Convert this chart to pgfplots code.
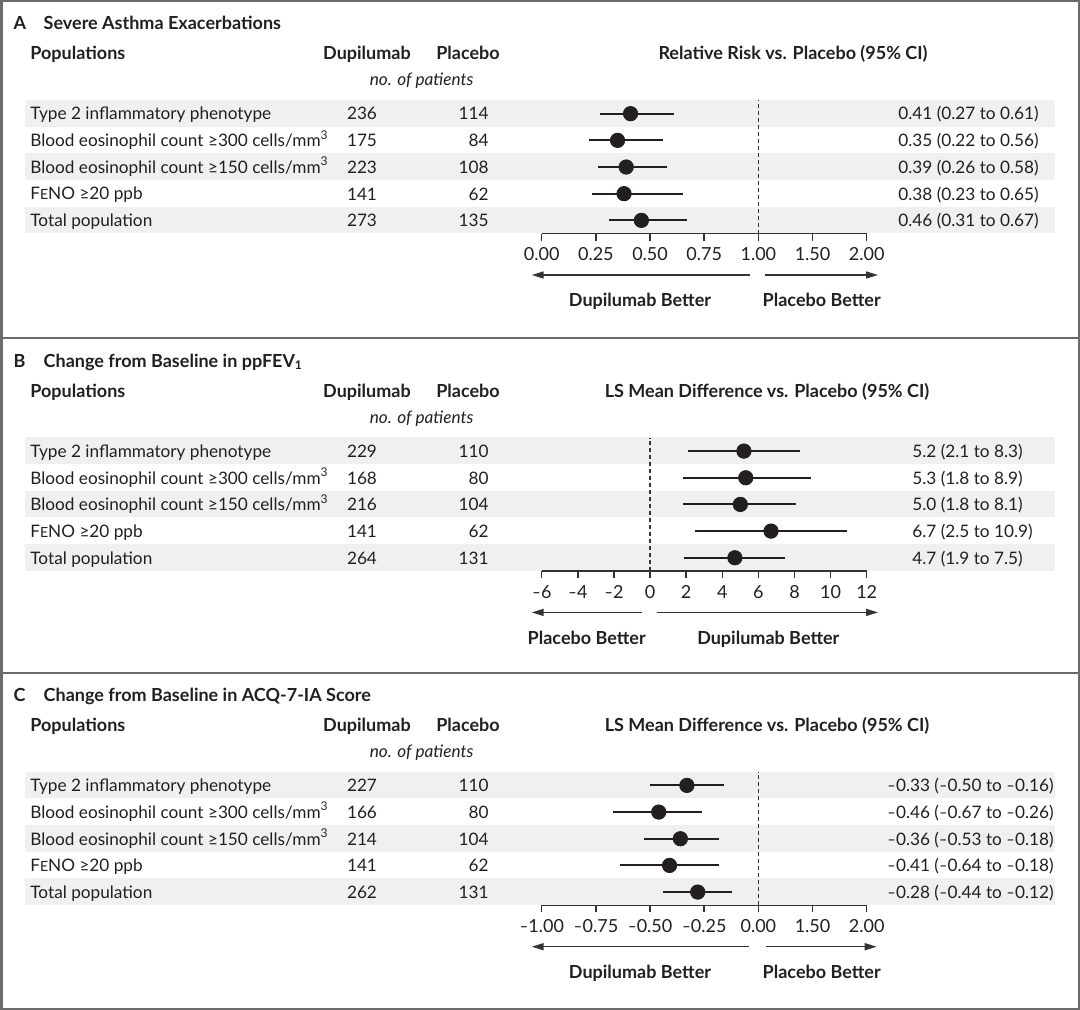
\documentclass[border=0pt]{standalone}
\usepackage{fontspec}
\setmainfont{Lato}
\usepackage{pgfplots}
\pgfplotsset{compat=1.18}
\usepackage{pgfplotstable}
\usetikzlibrary{arrows.meta}

\definecolor{ink}{HTML}{231F20}
\definecolor{band}{HTML}{EFF0F0}
\definecolor{framec}{HTML}{6B6B6B}
\definecolor{axisgray}{HTML}{333333}

\newcommand\fs{\fontsize{8.6}{10}\selectfont}
\newcommand\fst{\fontsize{9}{10}\selectfont}
\newcommand\fsb{\fontsize{9}{10}\selectfont\bfseries}
% narrow dash used as minus sign in the reference
\newcommand\nd{\kern0.02em\scalebox{0.8}[1]{–}\kern0.02em}

% rows numbered 5 (top) to 1 (bottom)
\pgfplotstableread{
row est lo hi
5 0.41 0.27 0.61
4 0.35 0.22 0.56
3 0.39 0.26 0.58
2 0.38 0.23 0.65
1 0.46 0.31 0.67
}\tabA
\pgfplotstableread{
row est lo hi
5 5.2 2.1 8.3
4 5.3 1.8 8.9
3 5.0 1.8 8.1
2 6.7 2.5 10.9
1 4.7 1.9 7.5
}\tabB
\pgfplotstableread{
row est lo hi
5 -0.33 -0.50 -0.16
4 -0.46 -0.67 -0.26
3 -0.36 -0.53 -0.18
2 -0.41 -0.64 -0.18
1 -0.28 -0.44 -0.12
}\tabC

\pgfplotsset{
  forest/.style={
    scale only axis, width=162.5pt, height=66.67pt,
    ymin=0.5, ymax=5.5, anchor=south west, clip=false,
    axis x line=bottom, axis y line=none,
    x axis line style={-, line width=0.75pt, draw=axisgray},
    xtick align=outside, major tick length=3.5pt,
    tick style={line width=0.75pt, color=axisgray},
    xticklabel style={font=\fst, text=ink},
    ytick=\empty,
  },
  ci/.style={only marks, mark=*, mark size=3.6pt, color=ink,
    error bars/.cd, x dir=both, x explicit, error mark=none,
    error bar style={line width=1pt, color=ink}},
}

\tikzset{
  lab/.style={font=\fs, text=ink, inner sep=0pt},
  hd/.style={font=\fsb, text=ink, inner sep=0pt},
  bet/.style={draw=axisgray, line width=0.75pt},
  ref/.style={axisgray, line width=0.75pt, dash pattern=on 2pt off 1.5pt},
}

\newcommand\rowlabels[1]{%
  \node[lab, anchor=base west] at (30,{#1+120.0}) {Type 2 inflammatory phenotype};
  \node[lab, anchor=base west] at (30,{#1+146.7}) {Blood eosinophil count ≥300 cells/mm\textsuperscript{3}};
  \node[lab, anchor=base west] at (30,{#1+173.4}) {Blood eosinophil count ≥150 cells/mm\textsuperscript{3}};
  \node[lab, anchor=base west] at (30,{#1+200.0}) {F{\fontsize{7}{8}\selectfont E}NO ≥20 ppb};
  \node[lab, anchor=base west] at (30,{#1+226.7}) {Total population};
  \node[hd, anchor=base west] at (30,{#1+60}) {Populations};
  \node[hd, anchor=base] at (367,{#1+60}) {Dupilumab};
  \node[hd, anchor=base] at (468,{#1+60}) {Placebo};
  \node[lab, anchor=base, font=\fs\itshape] at (421.7,{#1+86}) {no. of patients};
}
\newcommand\nums[3]{%
  \foreach \v [count=\i] in {#2}
    \node[lab, anchor=base] at (362,{#1+120.0+(\i-1)*26.67}) {\v};
  \foreach \v [count=\i] in {#3}
    \node[lab, anchor=base east] at (489,{#1+120.0+(\i-1)*26.67}) {\v};
}
\newcommand\est[4]{%
  \foreach \v [count=\i] in {#4}
    \node[lab, anchor=base #3] at (#2,{#1+120.0+(\i-1)*26.67}) {\v};
}

\begin{document}
\begin{tikzpicture}[x=0.5pt, y=-0.5pt]
\useasboundingbox (0,0) rectangle (1080,1010);

% bands
\foreach \o in {0,337.4,671.7}
  \foreach \t in {100,153.3,206.7}
    \fill[band] (25,{\o+\t}) rectangle (1055,{\o+\t+26.67});

% frame
\draw[framec, line width=1.25pt] (1.25,1.25) rectangle (1078.75,1008.75);
\draw[framec, line width=1pt] (0,338.3) -- (1080,338.3);
\draw[framec, line width=1pt] (0,673) -- (1080,673);

% titles
\node[hd, anchor=base west] at (13.3,30) {A};
\node[hd, anchor=base west] at (43.3,30) {Severe Asthma Exacerbations};
\node[hd, anchor=base west] at (13.3,367.4) {B};
\node[hd, anchor=base west] at (43.3,367.4) {Change from Baseline in ppFEV\textsubscript{1}};
\node[hd, anchor=base west] at (13.3,701.7) {C};
\node[hd, anchor=base west] at (43.3,701.7) {Change from Baseline in ACQ-7-IA Score};

\rowlabels{0}
\rowlabels{337.4}
\rowlabels{671.7}

\nums{0}{236,175,223,141,273}{114,84,108,62,135}
\nums{337.4}{229,168,216,141,264}{110,80,104,62,131}
\nums{671.7}{227,166,214,141,262}{110,80,104,62,131}

\node[hd, anchor=base] at (793,60) {Relative Risk vs. Placebo (95\% CI)};
\node[hd, anchor=base] at (767,397.4) {LS Mean Difference vs. Placebo (95\% CI)};
\node[hd, anchor=base] at (767,731.7) {LS Mean Difference vs. Placebo (95\% CI)};

\est{0}{898}{west}{0.41 (0.27 to 0.61),0.35 (0.22 to 0.56),0.39 (0.26 to 0.58),0.38 (0.23 to 0.65),0.46 (0.31 to 0.67)}
\est{337.4}{912}{west}{5.2 (2.1 to 8.3),5.3 (1.8 to 8.9),5.0 (1.8 to 8.1),6.7 (2.5 to 10.9),4.7 (1.9 to 7.5)}
\est{671.7}{1054}{east}{\nd0.33 (\nd0.50 to \nd0.16),\nd0.46 (\nd0.67 to \nd0.26),\nd0.36 (\nd0.53 to \nd0.18),\nd0.41 (\nd0.64 to \nd0.18),\nd0.28 (\nd0.44 to \nd0.12)}

% axes
\coordinate (axA) at (541.7,233.7);
\coordinate (axB) at (541.7,571.1);
\coordinate (axC) at (541.7,905.4);

\begin{axis}[forest, at={(axA)}, xmin=0, xmax=1.5,
  xtick={0,0.25,0.5,0.75,1,1.25,1.5},
  xticklabels={0.00,0.25,0.50,0.75,1.00,1.50,2.00}]
  \draw[ref] (axis cs:1,0.5) -- (axis cs:1,5.5);
  \addplot[ci] table[x=est, y=row,
    x error plus expr=\thisrow{hi}-\thisrow{est},
    x error minus expr=\thisrow{est}-\thisrow{lo}] {\tabA};
\end{axis}

\begin{axis}[forest, at={(axB)}, xmin=-6, xmax=12,
  xtick={-6,-4,-2,0,2,4,6,8,10,12},
  xticklabels={\nd6,\nd4,\nd2,0,2,4,6,8,10,12}]
  \draw[ref] (axis cs:0,0.5) -- (axis cs:0,5.5);
  \addplot[ci] table[x=est, y=row,
    x error plus expr=\thisrow{hi}-\thisrow{est},
    x error minus expr=\thisrow{est}-\thisrow{lo}] {\tabB};
\end{axis}

\begin{axis}[forest, at={(axC)}, xmin=-1, xmax=0.5,
  xtick={-1,-0.75,-0.5,-0.25,0,0.25,0.5},
  xticklabels={\nd1.00,\nd0.75,\nd0.50,\nd0.25,0.00,1.50,2.00}]
  \draw[ref] (axis cs:0,0.5) -- (axis cs:0,5.5);
  \addplot[ci] table[x=est, y=row,
    x error plus expr=\thisrow{hi}-\thisrow{est},
    x error minus expr=\thisrow{est}-\thisrow{lo}] {\tabC};
\end{axis}

% direction arrows and captions
\draw[bet, {Triangle[length=6pt,width=3.5pt]}-] (531.7,275) -- (750,275);
\draw[bet, -{Triangle[length=6pt,width=3.5pt]}] (765,275) -- (878,275);
\node[hd, anchor=base] at (640,306.7) {Dupilumab Better};
\node[hd, anchor=base] at (821.7,306.7) {Placebo Better};

\draw[bet, {Triangle[length=6pt,width=3.5pt]}-] (531.7,612.4) -- (641.7,612.4);
\draw[bet, -{Triangle[length=6pt,width=3.5pt]}] (657,612.4) -- (878,612.4);
\node[hd, anchor=base] at (586.7,644.1) {Placebo Better};
\node[hd, anchor=base] at (768.3,644.1) {Dupilumab Better};

\draw[bet, {Triangle[length=6pt,width=3.5pt]}-] (531.7,946.7) -- (749.3,946.7);
\draw[bet, -{Triangle[length=6pt,width=3.5pt]}] (765.7,946.7) -- (876.7,946.7);
\node[hd, anchor=base] at (640,978.4) {Dupilumab Better};
\node[hd, anchor=base] at (821.7,978.4) {Placebo Better};
\end{tikzpicture}
\end{document}
